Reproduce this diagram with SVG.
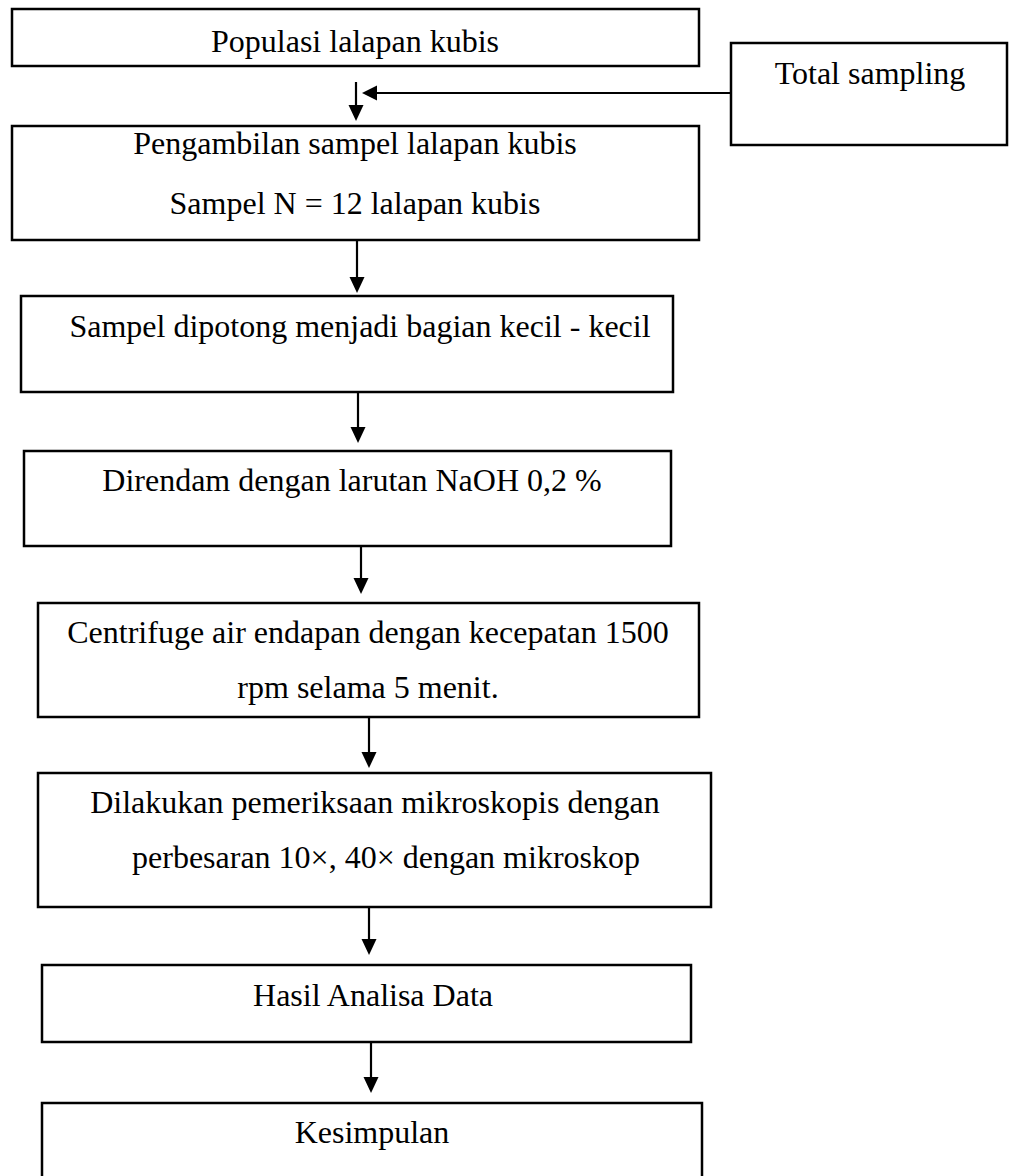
<svg xmlns="http://www.w3.org/2000/svg" width="1014" height="1176" viewBox="0 0 1014 1176">
<style>
.box{fill:#fff;stroke:#000;stroke-width:2.5}
.t{font-family:"Liberation Serif","Times New Roman",serif;font-size:32px;fill:#000;text-anchor:middle}
.c{fill:none;stroke:#000;stroke-width:2.2}
</style>
<rect width="1014" height="1176" fill="#fff"/>
<g id="connectors">
<line class="c" x1="356" y1="82" x2="356" y2="106"/><polygon points="348.5,105 363.5,105 356,121"/>
<line class="c" x1="731" y1="93" x2="376" y2="93"/><polygon points="377,85.5 377,100.5 362,93"/>
<line class="c" x1="357" y1="240" x2="357" y2="278"/><polygon points="349.5,277 364.5,277 357,293"/>
<line class="c" x1="358" y1="393" x2="358" y2="428"/><polygon points="350.5,427 365.5,427 358,443"/>
<line class="c" x1="361" y1="546" x2="361" y2="579"/><polygon points="353.5,578 368.5,578 361,594"/>
<line class="c" x1="369" y1="717" x2="369" y2="753"/><polygon points="361.5,752 376.5,752 369,768"/>
<line class="c" x1="369" y1="907" x2="369" y2="940"/><polygon points="361.5,939 376.5,939 369,955"/>
<line class="c" x1="371" y1="1042" x2="371" y2="1078"/><polygon points="363.5,1077 378.5,1077 371,1093"/>
</g>
<g id="n1"><rect class="box" x="12" y="9" width="687" height="57"/><text class="t" x="355" y="52">Populasi lalapan kubis</text></g>
<g id="n0"><rect class="box" x="731" y="43" width="276" height="102"/><text class="t" x="870" y="84">Total sampling</text></g>
<g id="n2"><rect class="box" x="12" y="126" width="687" height="114"/><text class="t" x="355" y="154">Pengambilan sampel lalapan kubis</text><text class="t" x="355" y="214">Sampel N = 12 lalapan kubis</text></g>
<g id="n3"><rect class="box" x="21" y="296" width="652" height="96"/><text class="t" x="360" y="337">Sampel dipotong menjadi bagian kecil - kecil</text></g>
<g id="n4"><rect class="box" x="24" y="451" width="647" height="95"/><text class="t" x="352" y="491">Direndam dengan larutan NaOH 0,2 %</text></g>
<g id="n5"><rect class="box" x="38" y="603" width="661" height="114"/><text class="t" x="368" y="643">Centrifuge air endapan dengan kecepatan 1500</text><text class="t" x="368" y="698">rpm selama 5 menit.</text></g>
<g id="n6"><rect class="box" x="38" y="773" width="673" height="134"/><text class="t" x="375" y="813">Dilakukan pemeriksaan mikroskopis dengan</text><text class="t" x="386" y="868">perbesaran 10×, 40× dengan mikroskop</text></g>
<g id="n7"><rect class="box" x="42" y="965" width="649" height="77"/><text class="t" x="373" y="1006">Hasil Analisa Data</text></g>
<g id="n8"><rect class="box" x="42" y="1103" width="660" height="90"/><text class="t" x="372" y="1143">Kesimpulan</text></g>
</svg>
